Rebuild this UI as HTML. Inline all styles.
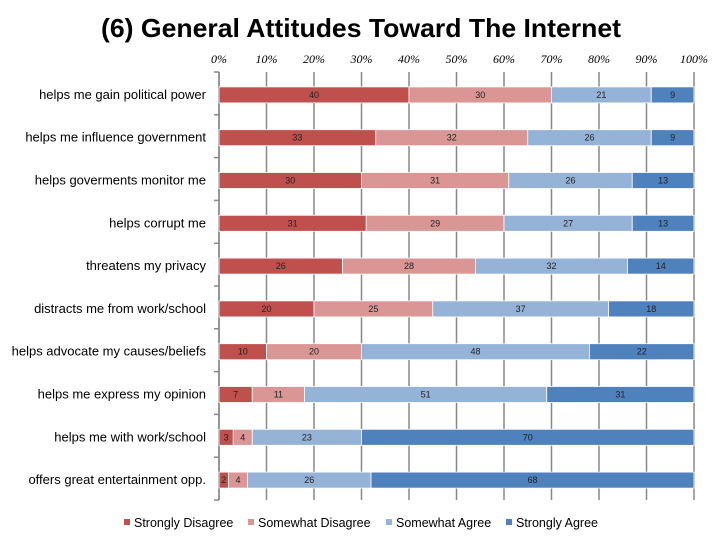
<!DOCTYPE html>
<html><head><meta charset="utf-8"><style>
body{margin:0;background:#fff;}
svg{display:block;font-family:"Liberation Sans","DejaVu Sans",sans-serif;}
</style></head><body>
<svg id="c" width="720" height="540">
<text x="361" y="37" text-anchor="middle" font-size="26" font-weight="bold" fill="#000" textLength="520" lengthAdjust="spacingAndGlyphs">(6) General Attitudes Toward The Internet</text>
<g id="grid"></g><g id="bars"></g><g id="ylab"></g><g id="legend"></g>
</svg>
<script>
const categories=["helps me gain political power","helps me influence government","helps goverments monitor me","helps corrupt me","threatens my privacy","distracts me from work/school","helps advocate my causes/beliefs","helps me express my opinion","helps me with work/school","offers great entertainment opp."];
const stronglyDisagree=[40,33,30,31,26,20,10,7,3,2];
const somewhatDisagree=[30,32,31,29,28,25,20,11,4,4];
const somewhatAgree=[21,26,26,27,32,37,48,51,23,26];
const stronglyAgree=[9,9,13,13,14,18,22,31,70,68];
const seriesNames=["Strongly Disagree","Somewhat Disagree","Somewhat Agree","Strongly Agree"];
const xTicks=[0,10,20,30,40,50,60,70,80,90,100];
const colors=["#c0504d","#d99694","#95b3d7","#4f81bd"];
const NS="http://www.w3.org/2000/svg";
const x0=219,x1=694,yTop=72,yBot=500;
const xs=v=>x0+(x1-x0)*v/100;
const rowH=(yBot-yTop)/categories.length;
const yc=i=>yTop+rowH*(i+0.5)+1.5;
function mk(t,a,p){const e=document.createElementNS(NS,t);for(const k in a)e.setAttribute(k,a[k]);p.appendChild(e);return e;}
const grid=document.getElementById('grid');
xTicks.forEach(t=>{
 const l=mk('line',{x1:xs(t),x2:xs(t),y1:yTop,y2:yBot,stroke:'#888','stroke-width':1.5},grid);
 
 
 const tx=mk('text',{x:xs(t),y:63,'text-anchor':'middle','font-size':12,'font-family':'Liberation Serif, serif','font-style':'italic'},grid);
 tx.textContent=t+'%';
 
 
});
const ax=mk('line',{x1:x0,x2:x0,y1:yTop,y2:yBot,stroke:'#888','stroke-width':1.5},grid);


for(let i=0;i<=categories.length;i++){
 const tk=mk('line',{x1:x0-5,x2:x0,y1:yTop+rowH*i,y2:yTop+rowH*i,stroke:'#888','stroke-width':1.5},grid);
 
 
}
const series=[stronglyDisagree,somewhatDisagree,somewhatAgree,stronglyAgree];
const bars=document.getElementById('bars'),ylab=document.getElementById('ylab');
categories.forEach((c,i)=>{
 let acc=0;
 series.forEach((s,j)=>{
  const v=s[i];
  const r=mk('rect',{x:xs(acc),y:yc(i)-8,width:xs(acc+v)-xs(acc),height:16,fill:colors[j],stroke:'#fff','stroke-width':0.8},bars);
  
  
  const t=mk('text',{x:(xs(acc)+xs(acc+v))/2,y:yc(i)+3,'text-anchor':'middle','font-size':9,fill:'#222'},bars);
  t.textContent=v;
  
  
  acc+=v;
 });
 const l=mk('text',{x:206,y:yc(i)+4,'text-anchor':'end','font-size':13,fill:'#000'},ylab);
 l.textContent=c;
 
 
});
const lg=document.getElementById('legend');
const lx=[124,248,386,506];
seriesNames.forEach((n,j)=>{
 const r=mk('rect',{x:lx[j],y:519,width:6,height:6,fill:colors[j]},lg);
 
 
 const t=mk('text',{x:lx[j]+10,y:527,'font-size':12.5},lg);
 t.textContent=n;
 
 
});
</script>
</body></html>
